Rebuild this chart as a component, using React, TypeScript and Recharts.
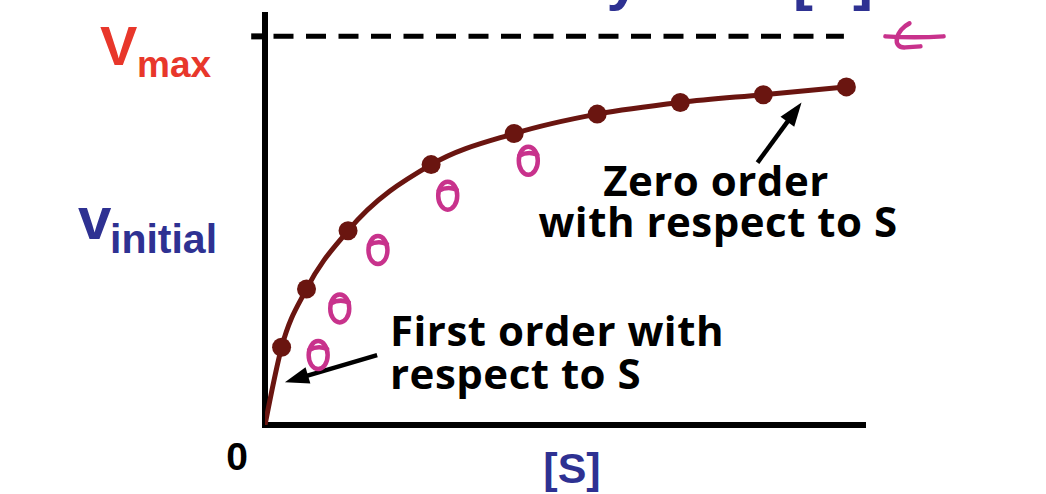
import { ComposedChart, Line, Scatter, XAxis, YAxis, ReferenceLine } from "recharts";

// substrate concentration [S] and initial velocity (as % of Vmax)
const substrate = [0.2, 0.5, 1, 2, 3, 4, 5, 6, 7];
const velocity = [20, 35, 50, 67, 75, 80, 83, 85, 87];

// hand-drawn pink marks
const penSubstrate = [0.64, 0.9, 1.36, 2.2, 3.17];
const penVelocity = [18, 30, 45, 59, 68];

const vmax = 100;
const xMax = 7.2;
const yMax = 105.5;

const RED = "#e8372b";
const BLUE = "#2e3192";
const CURVE = "#6a1510";
const PINK = "#c8328c";
const LABEL_FONT = "'Liberation Sans', Arial, sans-serif";
const NOTE_FONT = "'Open Sans', sans-serif";

const points = substrate.map((s, i) => ({ s, v: velocity[i] }));
const curve = [{ s: 0, v: 0 }, ...points];
const pen = penSubstrate.map((s, i) => ({ s, v: penVelocity[i] }));

const Dot = (props: any) => <circle cx={props.cx} cy={props.cy} r={9.5} fill={CURVE} />;

const PenLoop = (props: any) => {
  const { cx, cy } = props;
  return (
    <g fill="none" stroke={PINK} strokeWidth={4.5} strokeLinecap="round">
      <ellipse cx={cx} cy={cy} rx={9.5} ry={14} />
      <path d={`M ${cx - 9} ${cy - 5} Q ${cx} ${cy - 10} ${cx + 9} ${cy - 6}`} />
    </g>
  );
};

const Arrow = (props: any) => {
  const { x1, y1, x2, y2 } = props;
  const a = Math.atan2(y2 - y1, x2 - x1);
  const len = 24;
  const w = 8.5;
  const bx = x2 - len * Math.cos(a);
  const by = y2 - len * Math.sin(a);
  const px = -Math.sin(a) * w;
  const py = Math.cos(a) * w;
  return (
    <g>
      <line x1={x1} y1={y1} x2={bx + 4 * Math.cos(a)} y2={by + 4 * Math.sin(a)} stroke="#000" strokeWidth={4.5} />
      <polygon points={`${x2},${y2} ${bx + px},${by + py} ${bx - px},${by - py}`} fill="#000" />
    </g>
  );
};

const AxisStroke = (props: any) => (
  <line
    x1={props.x1}
    y1={props.y1}
    x2={props.x2}
    y2={props.y2}
    stroke="#000"
    strokeWidth={6}
    strokeLinecap="square"
  />
);

const DashedLine = (props: any) => (
  <line
    x1={props.x1}
    y1={props.y1}
    x2={props.x2}
    y2={props.y2}
    stroke="#000"
    strokeWidth={5}
    strokeDasharray="20 12.5"
    strokeDashoffset={24}
  />
);

const PenArrow = (props: any) => {
  const { x1, y1, x2, y2 } = props;
  return (
    <g fill="none" stroke={PINK} strokeWidth={4.5} strokeLinecap="round">
      <path d={`M ${x1} ${y1} Q ${(x1 + x2) / 2} ${y1 + 2} ${x2} ${y2}`} />
      <path d={`M ${x2 + 24} ${y2 - 13} C ${x2 + 10} ${y2 - 6}, ${x2 + 6} ${y2 + 12}, ${x2 + 20} ${y2 + 11} L ${x2 + 35} ${y2 + 10}`} />
    </g>
  );
};

export default function App() {
  return (
    <div style={{ position: "absolute", left: 0, top: 0, width: 1046, height: 494, overflow: "hidden", background: "#fff" }}>
      <ComposedChart width={1046} height={494} margin={{ top: 15, right: 183, bottom: 69, left: 265 }}>
        <XAxis type="number" dataKey="s" domain={[0, xMax]} allowDataOverflow hide />
        <YAxis type="number" dataKey="v" domain={[0, yMax]} allowDataOverflow hide />
        <ReferenceLine segment={[{ x: 0, y: 0 }, { x: 0, y: yMax }]} shape={AxisStroke} ifOverflow="visible" />
        <ReferenceLine segment={[{ x: 0, y: 0 }, { x: xMax, y: 0 }]} shape={AxisStroke} ifOverflow="visible" />
        <ReferenceLine segment={[{ x: -0.13, y: vmax }, { x: 0, y: vmax }]} shape={AxisStroke} ifOverflow="visible" />
        <ReferenceLine
          segment={[{ x: 0, y: vmax }, { x: 6.97, y: vmax }]}
          shape={DashedLine}
          ifOverflow="visible"
        />
        <ReferenceLine
          segment={[{ x: 8.17, y: vmax }, { x: 7.47, y: vmax }]}
          shape={PenArrow}
          ifOverflow="visible"
        />
        <Line
          data={curve}
          dataKey="v"
          type="monotone"
          stroke={CURVE}
          strokeWidth={5}
          dot={false}
          activeDot={false}
          isAnimationActive={false}
        />
        <Scatter data={points} dataKey="v" shape={Dot} isAnimationActive={false} />
        <Scatter data={pen} dataKey="v" shape={PenLoop} isAnimationActive={false} />
        <ReferenceLine
          segment={[{ x: 5.93, y: 67.5 }, { x: 6.46, y: 83 }]}
          shape={Arrow}
          ifOverflow="visible"
        />
        <ReferenceLine
          segment={[{ x: 1.35, y: 18 }, { x: 0.24, y: 11 }]}
          shape={Arrow}
          ifOverflow="visible"
        />
      </ComposedChart>
      <svg width={1046} height={494} style={{ position: "absolute", left: 0, top: 0, pointerEvents: "none" }}>
        <g fontFamily={LABEL_FONT} fontWeight={700}>
          <text y={-1} fontSize={60} fill={BLUE}>
            <tspan x={640} textAnchor="end">Velocity</tspan>
            <tspan x={672}>vs</tspan>
            <tspan x={793}>[S]</tspan>
          </text>
          <text x={100} y={65} fontSize={56} fill={RED}>
            V<tspan x={137} y={77} fontSize={37}>max</tspan>
          </text>
          <text x={78} y={239} fontSize={60} fill={BLUE}>
            v<tspan x={110} y={253} fontSize={41}>initial</tspan>
          </text>
          <text x={237} y={470} fontSize={39} fill="#000" textAnchor="middle">0</text>
          <text x={572} y={483} fontSize={43} fill={BLUE} textAnchor="middle">[S]</text>
        </g>
        <g fontFamily={NOTE_FONT} fontWeight={700} fill="#000" fontSize={42} letterSpacing={0.5}>
          <text textAnchor="middle">
            <tspan x={716} y={196}>Zero order</tspan>
            <tspan x={718} y={237}>with respect to S</tspan>
          </text>
          <text>
            <tspan x={390} y={346}>First order with</tspan>
            <tspan x={390} y={389}>respect to S</tspan>
          </text>
        </g>
      </svg>
    </div>
  );
}
